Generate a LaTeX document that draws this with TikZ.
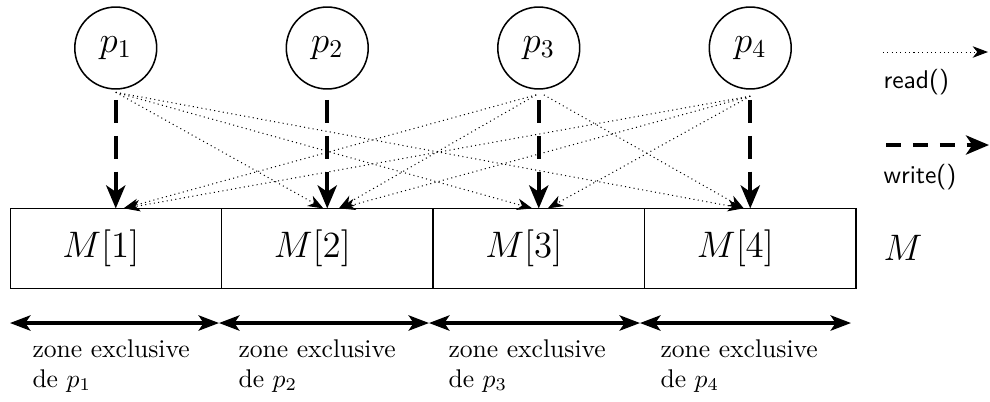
\documentclass[tikz,border=0pt]{standalone}
\usetikzlibrary{arrows.meta}
\begin{document}
\begin{tikzpicture}[x=0.390625pt,y=-0.390625pt,
  proc/.style={circle,draw,line width=0.6pt,minimum size=32pt,inner sep=0pt,font=\Large},
  cell/.style={rectangle,draw,line width=0.4pt,minimum width=82.6pt,minimum height=30.9pt,inner sep=0pt},
  celltxt/.style={inner sep=0pt,font=\Large},
  wr/.style={line width=1.5pt,dash pattern=on 9pt off 5pt,-{Stealth[length=9pt,width=7.5pt,inset=2.5pt]}},
  rd/.style={line width=0.4pt,dash pattern=on 0.4pt off 1.3pt,-{Stealth[length=6pt,width=4.5pt,inset=1.8pt]}},
  zone/.style={line width=1.2pt,{Stealth[length=8pt,width=6pt,inset=2pt]}-{Stealth[length=8pt,width=6pt,inset=2pt]}},
  lbl/.style={anchor=base west,inner sep=0pt},
  leg/.style={anchor=base west,inner sep=0pt,font=\sffamily}]
\useasboundingbox (0,0) rectangle (990,401);

% processes
\node[proc] (p1) at (115.75,48) {$p_1$};
\node[proc] (p2) at (327.25,48) {$p_2$};
\node[proc] (p3) at (538.75,48) {$p_3$};
\node[proc] (p4) at (750.25,48) {$p_4$};

% shared memory cells
\node[cell] (m1) at (115.75,248.5) {};
\node[cell] (m2) at (327.25,248.5) {};
\node[cell] (m3) at (538.75,248.5) {};
\node[cell] (m4) at (750.25,248.5) {};
\foreach \i in {1,...,4}
  \node[celltxt] (mt\i) at ([xshift=-5.8pt]m\i.center) {$M[\i]$};
\node (mlbl) at (903,248) {\Large $M$};

% writes into own cell
\foreach \i in {1,...,4}
  \draw[wr] ([yshift=-4pt]p\i.south) -- (m\i.north);

% reads from other cells
\draw[rd] ([yshift=-1pt]p1.south) -- ([xshift=-1.5pt]m2.north);
\draw[rd] ([yshift=-1pt]p1.south) -- ([xshift=-2.5pt]m3.north);
\draw[rd] ([yshift=-1pt]p1.south) -- ([xshift=-2.8pt]m4.north);
\draw[rd] ([xshift=-1pt,yshift=-2pt]p3.south) -- ([xshift=3pt]m1.north);
\draw[rd] ([xshift=-1pt,yshift=-2pt]p3.south) -- ([xshift=4.5pt]m2.north);
\draw[rd] ([xshift=2pt,yshift=-2pt]p3.south) -- ([xshift=-2.5pt]m4.north);
\draw[rd] ([yshift=-2.5pt]p4.south) -- ([xshift=3.5pt]m1.north);
\draw[rd] ([yshift=-2.5pt]p4.south) -- ([xshift=5pt]m2.north);
\draw[rd] ([yshift=-2.5pt]p4.south) -- ([xshift=3.5pt]m3.north);

% legend
\coordinate (rdA) at (883,52);
\coordinate (rdB) at (988,52);
\draw[rd] (rdA) -- (rdB);
\node[leg] (rdlbl) at (883,88) {read()};
\coordinate (wrA) at (886,145);
\coordinate (wrB) at (989,145);
\draw[wr,dash pattern=on 6pt off 4.5pt] (wrA) -- (wrB);
\node[leg] (wrlbl) at (883,183) {write()};

% exclusive zones
\coordinate (z0) at (10,323);
\coordinate (z1) at (219,323);
\coordinate (z2) at (429,323);
\coordinate (z3) at (640,323);
\coordinate (z4) at (851,323);
\draw[zone] (z0) -- (z1);
\draw[zone] (z1) -- (z2);
\draw[zone] (z2) -- (z3);
\draw[zone] (z3) -- (z4);

\node[lbl] (za1) at (32,357) {zone exclusive};
\node[lbl] (zb1) at (32,387) {de $p_1$};
\node[lbl] (za2) at (238,357) {zone exclusive};
\node[lbl] (zb2) at (238,387) {de $p_2$};
\node[lbl] (za3) at (448,357) {zone exclusive};
\node[lbl] (zb3) at (448,387) {de $p_3$};
\node[lbl] (za4) at (660,357) {zone exclusive};
\node[lbl] (zb4) at (660,387) {de $p_4$};
\end{tikzpicture}
\end{document}
